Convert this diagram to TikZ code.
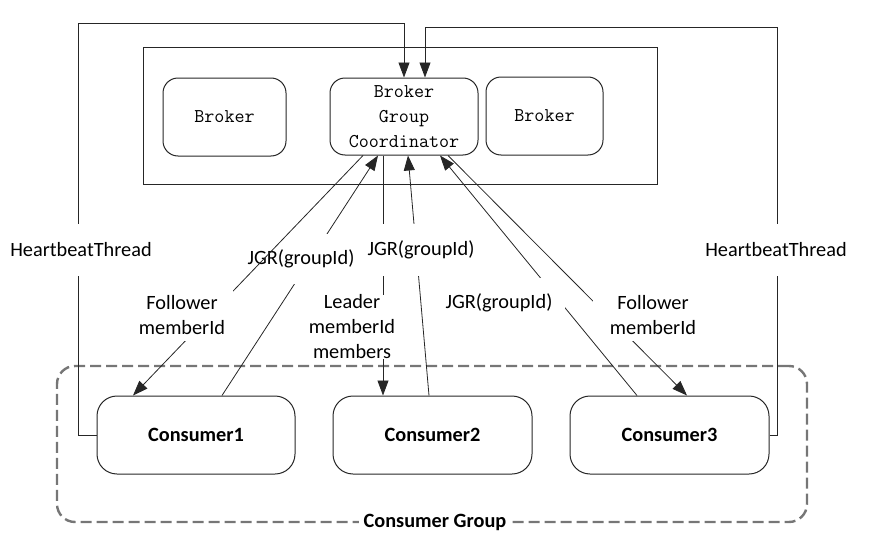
\documentclass[tikz,border=0pt]{standalone}
\usepackage{fontspec}
\setmainfont{Carlito}
\usetikzlibrary{arrows.meta}
\definecolor{dashgray}{HTML}{767676}
\begin{document}
\begin{tikzpicture}[x=1pt,y=-1pt,
  box/.style={draw=black!85, rounded corners=15pt, line width=1pt},
  mono/.style={font=\fontsize{19.5}{25}\selectfont\ttfamily, align=center},
  cons/.style={box, rounded corners=20pt, minimum width=198pt, minimum height=78pt, font=\fontsize{20.3}{24}\selectfont\bfseries},
  lbl/.style={font=\fontsize{20.3}{25}\selectfont, align=center, fill=white, inner sep=1pt},
  conn/.style={line width=0.8pt, draw=black!85},
  arr/.style={conn, -{Triangle[length=15pt,width=11pt]}},
]
\useasboundingbox (0,0) rectangle (876,538);

% broker cluster
\node[draw=black!85, line width=1pt, minimum width=514pt, minimum height=137pt] (cluster) at (400,115.5) {};
\node[box, mono, minimum width=123pt, minimum height=78pt] (b1) at (224.5,117) {Broker};
\node[box, mono, minimum width=148pt, minimum height=77pt, inner sep=0pt] (coord) at (404,116.5) {Broker\\Group\\Coordinator};
\node[box, mono, minimum width=117pt, minimum height=78pt] (b2) at (544.5,116) {Broker};

% consumer group
\node[draw=dashgray, line width=2.4pt, dash pattern=on 11pt off 5pt, rounded corners=18pt,
      minimum width=750pt, minimum height=156pt] (grp) at (432,444) {};
\node[lbl, font=\fontsize{20.3}{24}\selectfont\bfseries, inner xsep=5pt] (grplbl) at (435,522) {Consumer Group};

\node[cons] (c1) at (196,435) {Consumer1};
\node[cons, minimum width=199pt] (c2) at (432.5,435) {Consumer2};
\node[cons, minimum width=199pt] (c3) at (669.5,435) {Consumer3};

% heartbeat loops
\coordinate (hbL) at (78,23.5);
\coordinate (hbR) at (777,27);
\draw[arr] (c1.west) -| (hbL) -| (coord.north);
\draw[arr] (c3.east) -| (hbR) -| ([xshift=21pt]coord.north);
\node[lbl, minimum height=52pt] (hbLl) at (81,250) {HeartbeatThread};
\node[lbl, minimum height=52pt] (hbRl) at (776,250) {HeartbeatThread};

% consumer1 <-> coordinator
\draw[arr] ([xshift=26pt]c1.north) -- ([xshift=-26pt]coord.south);
\node[lbl, minimum height=50pt] (j1) at (301,259) {JGR(groupId)};
\draw[arr] ([xshift=-41pt]coord.south) -- ([xshift=-63pt]c1.north);
\node[lbl, minimum height=52pt, minimum width=102pt] (f1) at (182,315) {Follower\\memberId};

% consumer2 <-> coordinator
\draw[arr] ([xshift=-21pt]coord.south) -- ([xshift=-49.5pt]c2.north);
\draw[arr] ([xshift=-3.5pt]c2.north) -- ([xshift=4pt]coord.south);
\node[lbl, inner sep=0pt] (ld) at (352,327) {Leader\\memberId\\members};
\node[lbl, minimum height=52pt] (j2) at (421,250) {JGR(groupId)};

% consumer3 <-> coordinator
\draw[arr] ([xshift=-32.5pt]c3.north) -- ([xshift=36pt]coord.south);
\node[lbl, minimum height=50pt, minimum width=132pt] (j3) at (499,303) {JGR(groupId)};
\draw[arr] ([xshift=44pt]coord.south) -- ([xshift=17.5pt]c3.north);
\node[lbl, minimum height=52pt, minimum width=120pt] (f3) at (653,315) {Follower\\memberId};
\end{tikzpicture}
\end{document}
